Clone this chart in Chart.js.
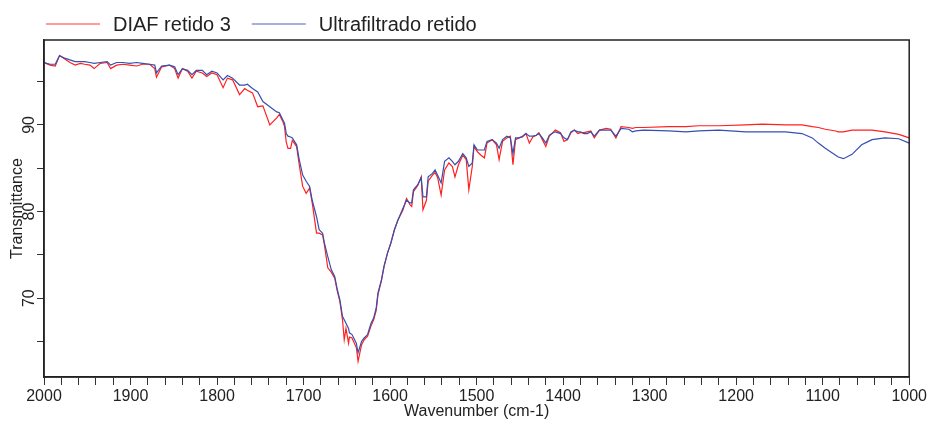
<!DOCTYPE html>
<html>
<head>
<meta charset="utf-8">
<script src="https://cdn.jsdelivr.net/npm/chart.js@4"></script>
<style>
  html, body { margin: 0; padding: 0; background: #fff; }
  #wrap { width: 929px; height: 421px; }
</style>
</head>
<body>
<div id="wrap"><canvas id="spectrum" width="929" height="421"></canvas></div>
<script>
// ── Data ───────────────────────────────────────────────────────────

const wavenumbers = [
  2000, 1993, 1987, 1982, 1976, 1970, 1964, 1958, 1953, 1947, 1942, 1935, 1927, 1923, 1916, 1909,
  1901, 1893, 1886, 1878, 1872, 1870, 1864, 1855, 1849, 1845, 1840, 1834, 1829, 1824, 1817, 1812,
  1806, 1800, 1793, 1788, 1782, 1774, 1768, 1765, 1759, 1753, 1747, 1739, 1731, 1728, 1724, 1722,
  1720, 1718, 1715, 1713, 1708, 1705, 1701, 1697, 1693, 1690, 1685, 1682, 1678, 1676, 1672, 1668,
  1664, 1661, 1658, 1655, 1653, 1651, 1648, 1647, 1644, 1639, 1637, 1633, 1630, 1626, 1622, 1619,
  1616, 1614, 1610, 1607, 1603, 1599, 1595, 1591, 1585, 1581, 1577, 1575, 1573, 1568, 1564, 1562,
  1558, 1556, 1551, 1548, 1545, 1541, 1537, 1532, 1528, 1525, 1521, 1516, 1512, 1509, 1505, 1503,
  1499, 1495, 1491, 1488, 1482, 1477, 1474, 1470, 1465, 1461, 1458, 1455, 1451, 1447, 1443, 1439,
  1435, 1431, 1428, 1424, 1420, 1416, 1413, 1409, 1403, 1399, 1395, 1391, 1387, 1383, 1380, 1376,
  1372, 1368, 1364, 1358, 1350, 1345, 1339, 1333, 1324, 1320, 1316, 1307, 1278, 1258, 1243, 1220,
  1189, 1170, 1143, 1124, 1112, 1105, 1097, 1085, 1082, 1076, 1066, 1055, 1047, 1043, 1028, 1012,
  1000
];

const diafRetido3 = [
  97.2, 96.9, 96.8, 98.0, 97.6, 97.2, 96.9, 97.1, 97.0, 96.9, 96.5, 97.1, 97.2, 96.5, 96.9, 97.0,
  96.9, 96.8, 97.0, 97.0, 96.5, 95.5, 96.7, 96.9, 96.5, 95.4, 96.5, 96.2, 95.4, 96.2, 96.0, 95.6,
  96.0, 95.8, 94.3, 95.4, 95.2, 93.5, 94.2, 94.0, 93.7, 92.1, 92.2, 90.0, 90.8, 91.2, 90.4, 89.8,
  88.0, 87.3, 87.3, 88.2, 87.5, 85.4, 82.9, 82.1, 82.7, 81.0, 77.5, 77.5, 77.3, 76.2, 73.5, 73.0,
  72.3, 70.8, 69.6, 67.5, 65.2, 66.5, 64.8, 65.5, 65.4, 64.3, 62.7, 64.6, 65.2, 65.6, 66.8, 67.5,
  68.6, 70.4, 72.0, 73.6, 75.2, 76.4, 77.9, 79.0, 80.2, 81.5, 80.8, 80.6, 82.3, 83.0, 84.0, 80.2,
  81.3, 83.5, 84.2, 84.5, 83.9, 81.9, 84.8, 85.6, 85.2, 84.0, 85.4, 86.5, 86.0, 82.5, 85.2, 87.5,
  86.9, 86.5, 86.2, 87.9, 88.3, 87.7, 86.0, 88.1, 88.5, 88.7, 85.4, 88.3, 88.5, 88.6, 89.0, 87.9,
  88.6, 88.8, 89.1, 88.3, 87.5, 88.7, 89.0, 89.4, 89.1, 88.1, 88.3, 89.1, 89.4, 89.0, 89.1, 89.1,
  89.2, 89.3, 88.5, 89.4, 89.6, 89.5, 88.5, 89.8, 89.7, 89.6, 89.7, 89.7, 89.8, 89.8, 89.9, 89.9,
  90.0, 90.1, 90.0, 90.0, 89.8, 89.7, 89.5, 89.3, 89.2, 89.2, 89.4, 89.4, 89.4, 89.4, 89.2, 88.9,
  88.5
];

const ultrafiltradoRetido = [
  97.2, 97.0, 97.0, 98.0, 97.7, 97.5, 97.3, 97.3, 97.3, 97.2, 97.1, 97.2, 97.3, 96.9, 97.2, 97.2,
  97.1, 97.2, 97.1, 97.0, 96.9, 96.0, 96.8, 96.9, 96.7, 95.8, 96.5, 96.3, 95.8, 96.3, 96.3, 95.8,
  96.2, 96.0, 95.2, 95.7, 95.4, 94.6, 94.6, 94.7, 94.2, 93.8, 92.7, 92.1, 91.5, 91.4, 90.6, 90.2,
  89.0, 88.7, 88.6, 88.5, 87.7, 86.0, 84.2, 83.5, 82.9, 81.3, 79.4, 77.9, 77.5, 76.4, 74.8, 73.3,
  72.5, 71.0, 69.8, 67.9, 67.5, 67.1, 66.5, 66.0, 65.8, 64.8, 63.7, 65.0, 65.4, 65.8, 67.1, 67.7,
  68.9, 70.6, 72.1, 73.7, 75.2, 76.4, 77.9, 79.0, 80.4, 81.3, 81.0, 81.0, 82.5, 83.1, 83.9, 81.7,
  81.7, 84.0, 84.4, 84.8, 84.2, 83.3, 85.8, 86.2, 85.8, 85.4, 85.8, 86.7, 86.2, 85.2, 85.6, 87.7,
  87.1, 87.1, 87.1, 88.1, 88.3, 87.9, 87.3, 88.3, 88.7, 88.5, 86.7, 88.5, 88.5, 88.7, 89.0, 88.7,
  88.7, 88.8, 89.0, 88.5, 87.9, 88.8, 89.0, 89.2, 89.0, 88.5, 88.3, 89.2, 89.4, 89.2, 89.2, 89.0,
  89.0, 89.2, 88.7, 89.4, 89.4, 89.4, 88.7, 89.6, 89.5, 89.2, 89.3, 89.4, 89.3, 89.2, 89.3, 89.4,
  89.2, 89.2, 89.2, 89.0, 88.5, 87.9, 87.3, 86.5, 86.3, 86.1, 86.6, 87.7, 88.1, 88.3, 88.5, 88.4,
  87.9
];

const seriesNames = ["DIAF retido 3", "Ultrafiltrado retido"];
const seriesColors = ["#ff2020", "#3550b0"];
const xTickLabels = [2000, 1900, 1800, 1700, 1600, 1500, 1400, 1300, 1200, 1100, 1000];
const yTickLabels = [70, 80, 90];

// ── Helpers ────────────────────────────────────────────────────────

function toPoints(values) {
  return wavenumbers.map(function (wn, i) { return { x: wn, y: values[i] }; });
}

const TEXT = "#222";
const FONT = "'Liberation Sans', Arial, sans-serif";

// frame + rotated y labels + legend, drawn on top of the chart
const extrasPlugin = {
  id: "extras",
  afterDraw: function (chart) {
    const ctx = chart.ctx;
    const area = chart.chartArea;
    const yScale = chart.scales.y;

    ctx.save();
    ctx.strokeStyle = "#222";
    ctx.lineWidth = 1.5;
    ctx.strokeRect(area.left, area.top, area.right - area.left, area.bottom - area.top);

    // y tick labels, written vertically like the original
    ctx.fillStyle = TEXT;
    ctx.font = "16px " + FONT;
    ctx.textAlign = "center";
    ctx.textBaseline = "middle";
    yTickLabels.forEach(function (v) {
      const py = yScale.getPixelForValue(v);
      ctx.save();
      ctx.translate(30, py);
      ctx.rotate(-Math.PI / 2);
      ctx.fillText(String(v), 0, 0);
      ctx.restore();
    });

    // legend row
    ctx.font = "20px " + FONT;
    ctx.textAlign = "left";
    let x = 46;
    const y = 24;
    chart.data.datasets.forEach(function (ds) {
      ctx.strokeStyle = ds.borderColor;
      ctx.globalAlpha = 0.6;
      ctx.lineWidth = 1.5;
      ctx.beginPath();
      ctx.moveTo(x, y);
      ctx.lineTo(x + 54, y);
      ctx.stroke();
      ctx.globalAlpha = 1;
      x += 54 + 13;
      ctx.fillText(ds.label, x, y + 1);
      x += ctx.measureText(ds.label).width + 21;
    });
    ctx.restore();
  }
};

// ── Chart ──────────────────────────────────────────────────────────

const ctx = document.getElementById("spectrum").getContext("2d");

new Chart(ctx, {
  type: "line",
  data: {
    datasets: [
      {
        label: seriesNames[0],
        data: toPoints(diafRetido3),
        borderColor: seriesColors[0],
        borderWidth: 1.2,
        pointRadius: 0,
        tension: 0,
        order: 1,
      },
      {
        label: seriesNames[1],
        data: toPoints(ultrafiltradoRetido),
        borderColor: seriesColors[1],
        borderWidth: 1.2,
        pointRadius: 0,
        tension: 0,
        order: 0,
      },
    ],
  },
  options: {
    responsive: false,
    animation: false,
    layout: { padding: { top: 40, right: 18, left: 0, bottom: 0 } },
    plugins: {
      legend: { display: false },
      tooltip: { enabled: false },
    },
    scales: {
      x: {
        type: "linear",
        reverse: true,
        min: 1000,
        max: 2000,
        afterFit: function (scale) { scale.height = 44; },
        border: { display: true, color: "#222", width: 1.5 },
        grid: { drawOnChartArea: false, drawTicks: true, tickLength: 8, color: "#333" },
        ticks: {
          stepSize: 20,
          autoSkip: false,
          maxRotation: 0,
          includeBounds: false,
          padding: 2,
          color: TEXT,
          font: { family: FONT, size: 16 },
          callback: function (v) { return xTickLabels.indexOf(v) >= 0 ? String(v) : ""; },
        },
        title: {
          display: true,
          text: "Wavenumber (cm-1)",
          color: TEXT,
          font: { family: FONT, size: 16 },
          padding: { top: 0, bottom: 0 },
        },
      },
      y: {
        min: 60.9,
        max: 99.8,
        afterFit: function (scale) { scale.width = 44; },
        border: { display: true, color: "#222", width: 1.5 },
        grid: { drawOnChartArea: false, drawTicks: true, tickLength: 7, color: "#333" },
        ticks: {
          stepSize: 5,
          includeBounds: false,
          display: false,
        },
        title: {
          display: true,
          text: "Transmittance",
          color: TEXT,
          font: { family: FONT, size: 16 },
          padding: { top: 8, bottom: 0 },
        },
      },
    },
  },
  plugins: [extrasPlugin],
});
</script>
</body>
</html>
